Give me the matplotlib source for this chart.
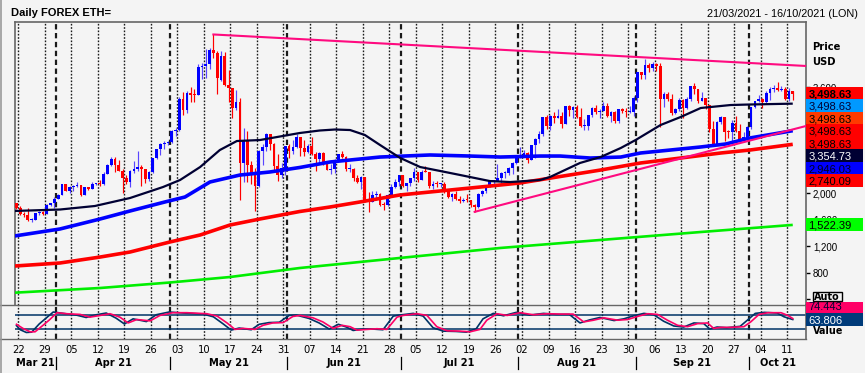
import matplotlib
matplotlib.use("Agg")
import matplotlib.pyplot as plt
import numpy as np
import pandas as pd
from matplotlib.patches import Rectangle
from matplotlib.lines import Line2D
from matplotlib.transforms import Bbox, TransformedBbox, blended_transform_factory

# ---------------- data ----------------
title = "Daily FOREX ETH="
range_text = "21/03/2021 - 16/10/2021 (LON)"
start_date = "2021-03-21"
end_date = "2021-10-16"

opens = [1850,1782,1681,1669,1594,1595,1703,1716,1692,1818,1846,
         1919,1977,2144,2028,2093,2108,2119,1971,2088,2072,2135,2157,2139,2299,2435,2519,2431,2344,2237,2166,2330,2364,2403,2363,2211,2316,2534,2662,2747,2757,
         2774,2945,2952,3431,3253,3523,3492,3484,3902,3928,3952,4168,4120,3715,4080,3640,3587,3282,3380,2460,2784,2430,2296,2110,2643,2706,2890,2744,2419,2280,2387,
         2714,2633,2707,2856,2689,2630,2715,2590,2518,2609,2472,2354,2372,2510,2587,2555,2364,2373,2231,2178,2246,1888,1875,1968,1989,1829,1817,1973,2088,2169,
         2275,2113,2150,2226,2321,2198,2324,2317,2116,2146,2139,2140,2036,1940,1995,1918,1880,1899,1895,1820,1787,1995,2033,2125,2188,2190,2233,2300,2300,2380,2462,
         2535,2562,2608,2507,2726,2828,2892,3155,3014,3165,3143,3164,3047,3320,3266,3310,3155,3012,3018,3182,3287,3225,3242,3320,3173,3228,3095,3270,3244,3225,3226,
         3433,3835,3789,3940,3887,3952,3928,3431,3497,3427,3212,3270,3410,3286,3430,3615,3571,3398,3433,3329,2975,2750,3078,3155,2930,2925,3062,2935,2807,2853,
         3001,3308,3391,3419,3380,3518,3581,3589,3563,3576,3419,3545]
highs = [1860,1810,1724,1781,1629,1703,1730,1728,1834,1852,1944,
         1989,2145,2145,2108,2127,2168,2130,2091,2095,2175,2162,2196,2319,2448,2545,2548,2497,2373,2276,2345,2491,2641,2427,2366,2338,2535,2663,2757,2797,2796,
         2950,2984,3454,3531,3541,3604,3573,3950,3969,4186,4197,4400,4150,4145,4131,3869,3587,3560,3437,2993,2940,2482,2383,2653,2751,2911,2893,2764,2595,2458,2716,
         2740,2800,2890,2858,2812,2743,2845,2620,2620,2617,2494,2449,2514,2600,2634,2564,2440,2380,2277,2255,2246,2014,2042,2036,2010,1868,1985,2134,2209,2281,
         2275,2158,2237,2386,2322,2345,2410,2318,2188,2189,2159,2173,2045,2002,2032,1957,1931,1987,1903,1836,2012,2048,2129,2200,2193,2439,2318,2342,2395,2468,2534,
         2697,2657,2620,2732,2833,2942,3159,3179,3180,3230,3274,3232,3320,3331,3321,3335,3289,3129,3188,3303,3335,3275,3373,3358,3249,3249,3280,3283,3282,3326,3471,
         3837,3835,4022,3969,3985,3970,3970,3533,3530,3500,3288,3437,3418,3460,3617,3670,3580,3530,3440,3333,3097,3100,3173,3155,2963,3112,3163,3050,2928,3010,
         3310,3400,3490,3440,3540,3603,3640,3675,3622,3601,3598,3552]
lows = [1760,1667,1649,1584,1560,1595,1667,1677,1690,1803,1782,
        1913,1970,2028,2007,2034,2091,1953,1968,2057,2067,2120,2111,2131,2285,2414,2315,2330,2000,2140,2089,2312,2336,2108,2163,2192,2306,2520,2582,2672,2728,
        2757,2862,2945,3185,3213,3386,3380,3484,3724,3748,3884,4050,3500,3690,3625,3383,3134,3263,1900,2172,2170,2143,1737,2090,2421,2644,2656,2316,2187,2229,2274,
        2540,2589,2688,2559,2560,2616,2584,2330,2452,2434,2357,2286,2312,2469,2540,2344,2320,2182,2151,2064,1869,1717,1864,1893,1813,1743,1810,1963,2080,2117,
        2090,2028,2117,2190,2169,2197,2316,2080,2058,2092,2094,2012,1930,1882,1896,1853,1862,1872,1800,1720,1777,1960,2003,2101,2107,2181,2159,2232,2278,2290,2441,
        2535,2557,2459,2507,2537,2758,2862,2970,2956,3066,3140,2988,3047,3163,3133,3142,2998,2959,2950,3160,3205,3140,3240,3147,3082,3066,3065,3217,3154,3220,3169,
        3387,3730,3726,3840,3853,3850,3000,3300,3400,3180,3200,3243,3145,3275,3390,3500,3365,3390,3280,2925,2740,2740,3040,2790,2840,2795,2930,2800,2780,2840,
        2972,3284,3374,3290,3369,3410,3530,3545,3541,3417,3400,3415]
closes = [1782,1681,1669,1594,1595,1703,1716,1692,1818,1846,1919,
          1977,2144,2028,2093,2108,2119,1971,2088,2072,2135,2157,2139,2299,2435,2519,2431,2344,2237,2166,2330,2364,2403,2363,2211,2316,2534,2662,2747,2757,2774,
          2945,2952,3431,3253,3523,3492,3484,3902,3928,3952,4168,4120,3740,4080,3640,3587,3282,3380,2460,2784,2430,2296,2110,2643,2706,2890,2744,2419,2280,2387,2714,
          2633,2707,2856,2689,2630,2715,2590,2518,2609,2472,2354,2372,2510,2587,2555,2364,2373,2231,2178,2246,1888,1875,1968,1989,1829,1817,1973,2088,2169,2275,
          2113,2150,2226,2321,2198,2324,2317,2116,2146,2139,2140,2036,1940,1995,1918,1880,1899,1895,1820,1787,1995,2033,2125,2188,2190,2233,2300,2300,2380,2462,2535,
          2562,2608,2507,2726,2828,2892,3155,3014,3165,3143,3164,3047,3320,3266,3310,3155,3012,3018,3182,3287,3225,3242,3320,3173,3228,3095,3270,3244,3225,3226,3433,
          3835,3789,3940,3887,3952,3928,3431,3497,3427,3212,3270,3410,3286,3430,3615,3571,3398,3433,3329,2975,2750,3078,3155,2930,2925,3062,2935,2807,2853,3001,
          3308,3391,3419,3380,3518,3581,3589,3563,3576,3419,3545,3498.63]

# moving averages (day index from 21 Mar 2021, price USD)
ma_black_days = [-0.5, 11.5, 20.7, 30.0, 38.7, 43.2, 48.5, 53.7, 58.2, 64.3, 74.8, 80.1, 84.1, 88.1, 92.0, 96.0, 101.3,
                 106.6, 111.9, 117.2, 125.0, 130.4, 138.3, 140.9, 148.8, 154.3, 159.6, 163.5, 170.1, 175.4, 180.7, 188.6, 193.7, 205]
ma_black_vals = [1733, 1755, 1808, 1929, 2095, 2201, 2397, 2654, 2790, 2805, 2911, 2949, 2964, 2956, 2881, 2730, 2535,
                 2397, 2337, 2276, 2185, 2170, 2201, 2246, 2458, 2549, 2685, 2805, 3032, 3153, 3289, 3334, 3342, 3354.73]
ma_blue_days = [-0.5, 11.5, 22.1, 30.0, 39.2, 44.5, 51.1, 59.0, 66.9, 74.8, 82.8, 96.0, 109.2, 119.8, 127.8, 138.3,
                143.6, 151.5, 159.6, 164.8, 172.7, 180.7, 187.3, 193.7, 205]
ma_blue_vals = [1355, 1461, 1612, 1733, 1869, 1944, 2171, 2276, 2322, 2390, 2473, 2548, 2579, 2563, 2548, 2563,
                2563, 2533, 2548, 2609, 2654, 2700, 2745, 2836, 2946.03]
ma_red_days = [-0.5, 11.5, 22.1, 30.0, 40.5, 48.5, 56.4, 64.3, 74.8, 82.8, 90.7, 101.3, 111.9, 122.5, 133.0, 143.6,
               154.3, 164.8, 175.4, 186.0, 193.7, 205]
ma_red_vals = [901, 947, 1037, 1113, 1264, 1370, 1521, 1612, 1725, 1793, 1869, 1975, 2035, 2095, 2156, 2254,
               2352, 2458, 2533, 2609, 2654, 2740.09]
ma_green_days = [-0.5, 22.1, 40.5, 56.4, 74.8, 101.3, 127.8, 154.3, 180.7, 205]
ma_green_vals = [498, 569, 652, 735, 871, 1023, 1174, 1295, 1415, 1522.39]

trend_high_days = [52, 208.5]
trend_high_vals = [4400, 3924]
trend_low_days = [121, 208.5]
trend_low_vals = [1720, 3017]

# lower oscillator panel
osc_pink_days = [0, 1.7, 3.6, 4.9, 7.0, 8.8, 10.7, 13.3, 16.8, 19.4, 22.1, 24.7, 27.3, 29.5, 31.8, 35.3, 37.9, 41.3,
                 45.0, 50.3, 53.0, 55.6, 57.7, 59.8, 63.0, 65.1, 67.7, 70.4, 73.0, 74.9, 78.3, 80.9, 83.6, 86.0, 88.1,
                 89.9, 92.6, 95.2, 97.8, 100.5, 102.1, 105.8, 108.4, 111.0, 113.7, 117.1, 119.8, 122.4, 124.2, 126.9,
                 129.6, 133.0, 136.5, 140.2, 143.6, 147.0, 149.8, 152.4, 155.1, 158.8, 161.4, 164.0, 166.7, 169.3,
                 171.9, 174.6, 177.2, 179.9, 182.5, 184.1, 186.0, 188.6, 192.1, 193.9, 196.1, 198.5, 201.9, 203.7, 205.0]
osc_pink_vals = [44, 32, 22, 22, 41, 58, 78, 75, 73, 65, 70, 75, 65, 48, 58, 54, 70, 78, 78, 75, 68, 48, 29, 32, 29,
                 41, 48, 49, 67, 70, 63, 51, 32, 41, 37, 27, 29, 31, 29, 65, 70, 75, 70, 37, 25, 24, 22, 29, 56, 75,
                 70, 78, 72, 75, 74, 74, 51, 56, 63, 56, 58, 67, 75, 73, 56, 41, 37, 46, 48, 32, 35, 35, 37, 51, 73,
                 78, 78, 70, 61]
osc_navy_days = [0, 1, 2.6, 4, 6, 7.8, 9.7, 12.3, 15.8, 18.4, 21.1, 23.7, 26.3, 28.5, 30.8, 34.3, 36.9, 40.3,
                 44.0, 49.3, 52.0, 54.6, 56.7, 58.8, 62.0, 64.1, 66.7, 69.4, 72.0, 73.9, 77.3, 79.9, 82.6, 85.0, 87.1,
                 88.9, 91.6, 94.2, 96.8, 99.5, 101.1, 104.8, 107.4, 110.0, 112.7, 116.1, 118.8, 121.4, 123.2, 125.9,
                 128.6, 132.0, 135.5, 139.2, 142.6, 146.0, 148.8, 151.4, 154.1, 157.8, 160.4, 163.0, 165.7, 168.3,
                 170.9, 173.6, 176.2, 178.9, 181.5, 183.1, 185.0, 187.6, 191.1, 192.9, 195.1, 197.5, 200.9, 202.7, 205.0]
osc_navy_vals = [40, 28, 20, 21, 45, 62, 80, 76, 71, 64, 72, 77, 62, 45, 60, 52, 72, 80, 77, 74, 66, 45, 27, 33, 28,
                 44, 49, 50, 70, 71, 61, 48, 30, 44, 36, 26, 30, 30, 28, 68, 71, 76, 68, 34, 24, 23, 21, 31, 60, 76,
                 69, 79, 71, 76, 73, 73, 48, 57, 64, 55, 60, 69, 76, 72, 53, 39, 36, 48, 46, 30, 36, 34, 38, 55, 76,
                 79, 77, 66, 58]
osc_levels = [70, 30]

price_ticks = [400, 800, 1200, 1600, 2000, 2400, 2800, 3200, 3600]
price_tick_labels = ["", "800", "1,200", "1,600", "2,000", "", "", "", "3,600"]

price_label_texts = ["3,498.63", "3,498.63", "3,498.63", "3,498.63", "3,498.63", "3,354.73", "2,946.03", "2,740.09"]
green_label_text = "1,522.39"
osc_label_texts = ["74.443", "63.806"]

# ---------------- styling ----------------
W, H = 865, 373
BG = "#F4F4F4"
NUMF = ["Liberation Sans", "DejaVu Sans"]
BOLDF = ["DejaVu Sans"]


def fx(x):
    return x / W


def fy(y):
    return 1 - y / H


fig = plt.figure(figsize=(W / 100, H / 100), dpi=100, facecolor=BG)
L, R, TOP, SEP, BOT = 14.6, 806.0, 22.3, 305.2, 339.3
ax = fig.add_axes([fx(L), fy(SEP), (R - L) / W, (SEP - TOP) / H])
ax2 = fig.add_axes([fx(L), fy(BOT), (R - L) / W, (BOT - SEP) / H])
for a in (ax, ax2):
    a.set_facecolor(BG)
    a.set_xlim(-0.5, 208.5)
ax.set_ylim(309, 4584)
ax2.set_ylim(0, 100)

# calendar positions
all_days = pd.date_range(start_date, end_date, freq="D")
mondays = [i for i, d in enumerate(all_days) if d.weekday() == 0 and i < 208]
month_starts = [i for i, d in enumerate(all_days) if d.day == 1 and i > 0]

for a in (ax, ax2):
    for m in mondays:
        a.axvline(m - 0.5, color="#1A1A1A", lw=1.0, ls=(0, (1.2, 1.2)), zorder=1)
    for m in month_starts:
        a.axvline(m - 0.5, color="#1A1A1A", lw=1.6, ls=(0, (2.4, 1.6)), zorder=1)

# candles
d = np.arange(len(closes))
o = np.array(opens, float)
h = np.array(highs, float)
lo = np.array(lows, float)
c = np.array(closes, float)
up = c >= o
bb = np.minimum(o, c)
bh = np.maximum(np.abs(c - o), 16)
ax.vlines(d[up], lo[up], h[up], color="#5A46FF", lw=0.85, zorder=3)
ax.vlines(d[~up], lo[~up], h[~up], color="#FF0000", lw=0.85, zorder=3)
ax.bar(d[up], bh[up], bottom=bb[up], width=0.72, color="#0000FF", lw=0, zorder=3.5)
ax.bar(d[~up], bh[~up], bottom=bb[~up], width=0.72, color="#FF0000", lw=0, zorder=3.5)

# moving averages and trend lines
ax.plot(ma_green_days, ma_green_vals, color="#00EE00", lw=1.9, zorder=4, solid_capstyle="butt")
ax.plot(ma_red_days, ma_red_vals, color="#FF0000", lw=2.6, zorder=4.1, solid_capstyle="butt")
ax.plot(ma_blue_days, ma_blue_vals, color="#0000FF", lw=2.6, zorder=4.2, solid_capstyle="butt")
ax.plot(ma_black_days, ma_black_vals, color="#000033", lw=1.6, zorder=4.3, solid_capstyle="butt")
ax.plot(trend_high_days, trend_high_vals, color="#FF0A7F", lw=1.5, zorder=5)
ax.plot(trend_low_days, trend_low_vals, color="#FF0A7F", lw=1.5, zorder=5)

# oscillator
for lv in osc_levels:
    ax2.axhline(lv, color="#003366", lw=1.1, zorder=2)
ax2.plot(osc_navy_days, osc_navy_vals, color="#003366", lw=1.2, zorder=3)
ax2.plot(osc_pink_days, osc_pink_vals, color="#FF0066", lw=1.2, zorder=4)

# spines / ticks
for s in ("left", "top", "right"):
    ax.spines[s].set_color("#666666")
    ax.spines[s].set_linewidth(1.2)
ax.spines["bottom"].set_visible(False)
ax2.spines["top"].set_visible(False)
ax2.spines["left"].set_visible(False)
ax2.spines["bottom"].set_visible(False)
ax2.spines["right"].set_color("#666666")
ax2.spines["right"].set_linewidth(1.2)
ax.tick_params(axis="x", bottom=False, labelbottom=False)
ax2.tick_params(axis="x", bottom=False, labelbottom=False)
ax2.set_yticks([])
ax.yaxis.tick_right()
ax.set_yticks(price_ticks)
ax.set_yticklabels(price_tick_labels, fontfamily=NUMF, fontsize=7)
ax.tick_params(axis="y", length=3, width=1, pad=2, color="black", labelcolor="black")

fig.add_artist(Line2D([0, fx(R)], [fy(SEP), fy(SEP)], color="#666666", lw=1.0, transform=fig.transFigure))
fig.add_artist(Line2D([0, fx(R)], [fy(BOT), fy(BOT)], color="#666666", lw=1.0, transform=fig.transFigure))
fig.add_artist(Line2D([fx(1.2), fx(1.2)], [0, 1], color="#9A9A9A", lw=1.2, transform=fig.transFigure))

# date axis labels
tr = blended_transform_factory(ax2.transData, fig.transFigure)
for m in mondays:
    fig.text(m - 0.5, fy(353.3), all_days[m].strftime("%d"), transform=tr, ha="center", va="baseline",
             fontsize=7.2, fontfamily=BOLDF, color="#000000")
bounds = [-0.5] + [m - 0.5 for m in month_starts] + [208.5]
for i in range(len(bounds) - 1):
    mid = (bounds[i] + bounds[i + 1]) / 2
    lbl = all_days[int(bounds[i] + 0.5)].strftime("%b %y")
    fig.text(mid, fy(366), lbl, transform=tr, ha="center", va="baseline", fontsize=7.1,
             fontfamily=BOLDF, fontweight="bold", color="#000000")
for b in bounds[1:-1]:
    fig.add_artist(Line2D([b, b], [fy(357), fy(369)], color="#000000", lw=0.9, transform=tr))

# header texts
fig.text(fx(10.7), fy(16), title, ha="left", va="baseline", fontsize=8, fontfamily=NUMF, fontweight="bold")
fig.text(fx(858.3), fy(16.7), range_text, ha="right", va="baseline", fontsize=7.85, fontfamily=NUMF)
fig.text(fx(811.7), fy(50), "Price", ha="left", va="baseline", fontsize=7.2, fontfamily=BOLDF, fontweight="bold")
fig.text(fx(811.7), fy(65), "USD", ha="left", va="baseline", fontsize=7.2, fontfamily=BOLDF, fontweight="bold")

# value label boxes
box_tops = [86.7, 99.3, 111.8, 124.3, 136.8, 149.3, 161.8, 174.3]
box_colors = ["#FF0000", "#0099FF", "#FF3A00", "#FF0000", "#FF0000", "#000033", "#0000FF", "#FF0000"]
text_colors = ["#000000", "#000033", "#000000", "#000000", "#000000", "#FFFFFF", "#000022", "#000000"]
for k, txt in enumerate(price_label_texts):
    t0 = box_tops[k]
    fig.add_artist(Rectangle((fx(806), fy(t0 + 12.5)), 57 / W, 12.5 / H, transform=fig.transFigure,
                             facecolor=box_colors[k], edgecolor="none", zorder=5))
    fig.text(fx(808.3), fy(t0 + 10.6), txt, ha="left", va="baseline", fontsize=8, fontfamily=NUMF,
             fontweight="bold" if k == 0 else "normal", color=text_colors[k], zorder=6)

fig.add_artist(Rectangle((fx(806), fy(230.7)), 57 / W, 12.4 / H, transform=fig.transFigure,
                         facecolor="#00FF00", edgecolor="none", zorder=5))
fig.text(fx(808.3), fy(228.7), green_label_text, ha="left", va="baseline", fontsize=8, fontfamily=NUMF,
         color="#000000", zorder=6)

# lower panel labels
fig.add_artist(Rectangle((fx(806), fy(312.7)), 57 / W, 10.7 / H, transform=fig.transFigure,
                         facecolor="#FF0066", edgecolor="none", zorder=5))
tp = fig.text(fx(808.3), fy(309.5), osc_label_texts[0], ha="left", va="baseline", fontsize=8, fontfamily=NUMF,
              color="#000033", zorder=6)
tp.set_clip_box(TransformedBbox(Bbox.from_extents(fx(806), fy(312.7), fx(863), fy(302)), fig.transFigure))
tp.set_clip_on(True)
fig.add_artist(Rectangle((fx(806), fy(326)), 57 / W, 13.3 / H, transform=fig.transFigure,
                         facecolor="#003B7A", edgecolor="none", zorder=5))
fig.text(fx(808.3), fy(323.5), osc_label_texts[1], ha="left", va="baseline", fontsize=8, fontfamily=NUMF,
         color="#FFFFFF", zorder=6)
fig.text(fx(813), fy(334), "Value", ha="left", va="baseline", fontsize=6.9, fontfamily=BOLDF,
         fontweight="bold", color="#000000", zorder=6)

fig.add_artist(Rectangle((fx(812.7), fy(301)), 29 / W, 8.7 / H, transform=fig.transFigure,
                         facecolor=BG, edgecolor="#000000", lw=1.0, zorder=7))
fig.text(fx(827.2), fy(300), "Auto", ha="center", va="baseline", fontsize=6.9, fontfamily=BOLDF,
         fontweight="bold", color="#000000", zorder=8)

fig.savefig("out.png", dpi=100, facecolor=BG)
